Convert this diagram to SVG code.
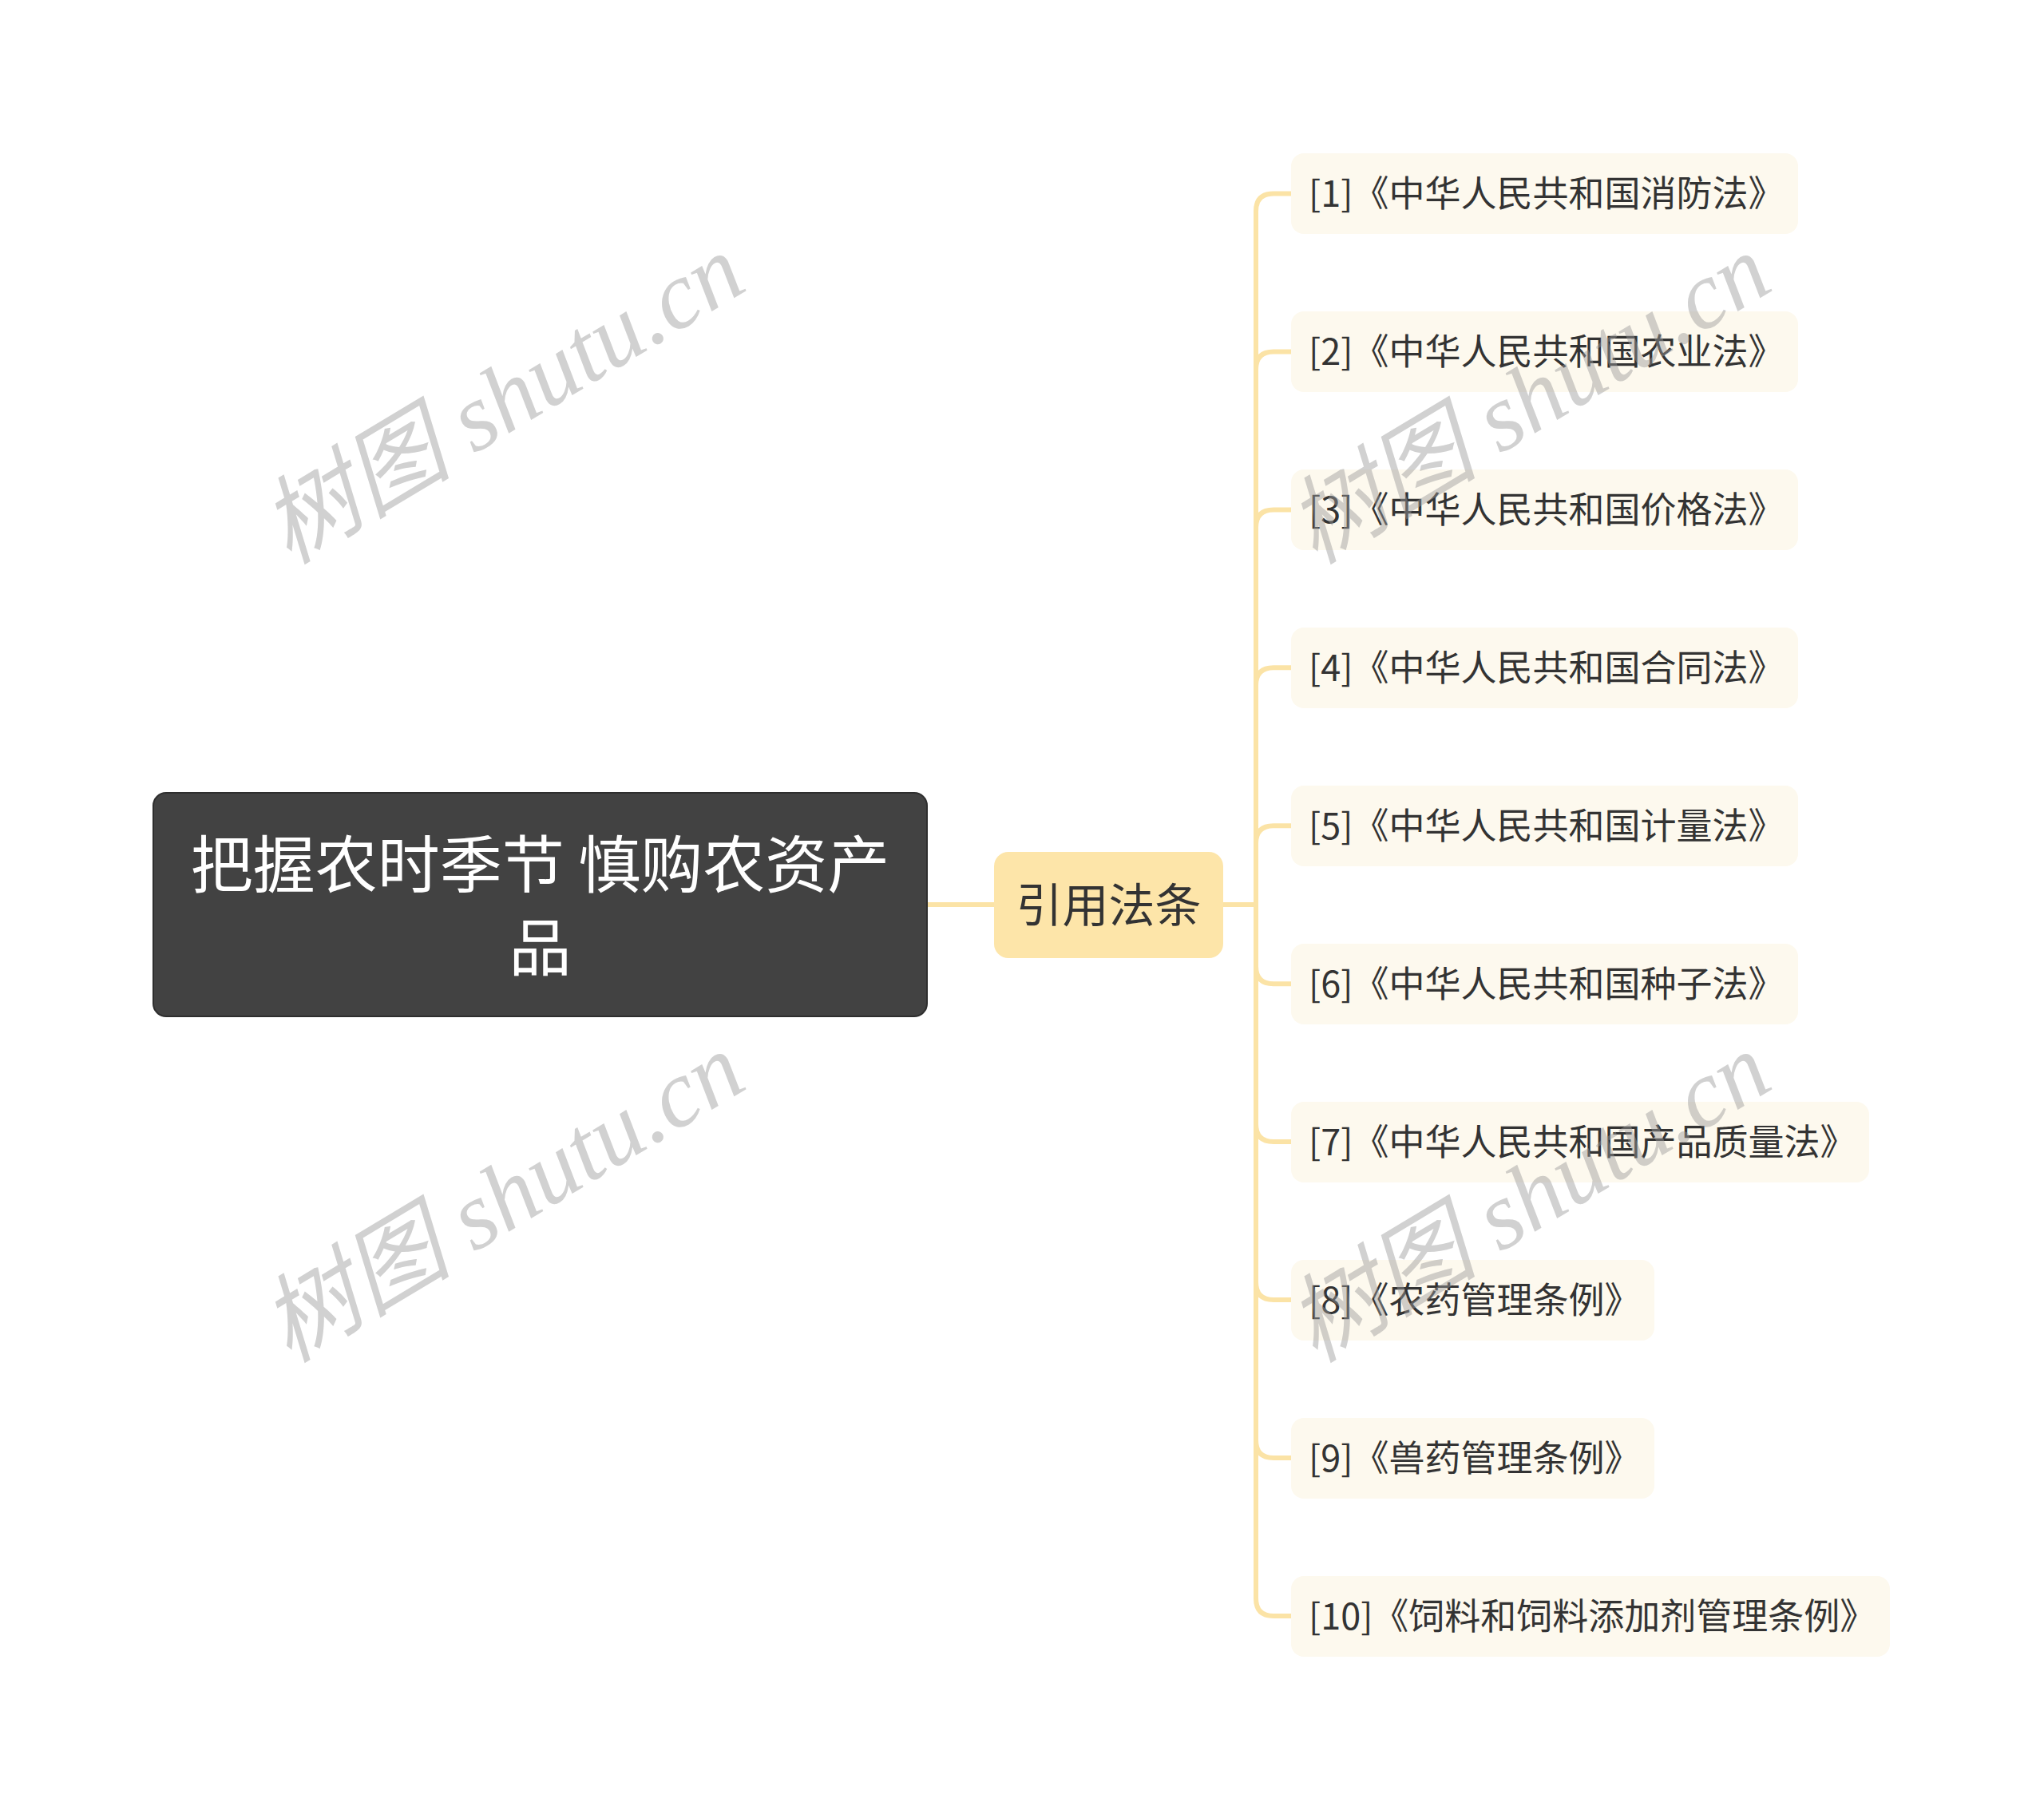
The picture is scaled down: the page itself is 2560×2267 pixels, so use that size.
<svg xmlns="http://www.w3.org/2000/svg" width="2560" height="2267" viewBox="0 0 2560 2267">
<style>
.conn{fill:none;stroke:#FBE3A6;stroke-width:6;stroke-linecap:round}
.leaf rect{fill:#FDF9EE}
.leaf text{font-family:"Noto Sans CJK SC","Noto Sans",sans-serif;font-size:45px;fill:#333333}
.wm{font-family:"Liberation Serif","Noto Sans CJK SC",serif;font-style:italic;font-size:120px;fill:#9a9a9a;opacity:0.45}
</style>
<rect width="2560" height="2267" fill="#ffffff"/>
<g id="connectors">
<path class="conn" d="M1161 1133 H1245"/>
<path class="conn" d="M1532 1133 H1573 V264.5 Q1573 242.5 1595 242.5 H1617"/>
<path class="conn" d="M1532 1133 H1573 V462.4 Q1573 440.4 1595 440.4 H1617"/>
<path class="conn" d="M1532 1133 H1573 V660.4 Q1573 638.4 1595 638.4 H1617"/>
<path class="conn" d="M1532 1133 H1573 V858.3 Q1573 836.3 1595 836.3 H1617"/>
<path class="conn" d="M1532 1133 H1573 V1056.2 Q1573 1034.2 1595 1034.2 H1617"/>
<path class="conn" d="M1532 1133 H1573 V1210.2 Q1573 1232.2 1595 1232.2 H1617"/>
<path class="conn" d="M1532 1133 H1573 V1408.1 Q1573 1430.1 1595 1430.1 H1617"/>
<path class="conn" d="M1532 1133 H1573 V1606 Q1573 1628 1595 1628 H1617"/>
<path class="conn" d="M1532 1133 H1573 V1804 Q1573 1826 1595 1826 H1617"/>
<path class="conn" d="M1532 1133 H1573 V2001.9 Q1573 2023.9 1595 2023.9 H1617"/>
</g>
<g id="root">
<rect x="192" y="993" width="969" height="280" rx="16" fill="#424242" stroke="#2e2e2e" stroke-width="2"/>
<text x="676.5" y="1112" text-anchor="middle" font-family="'Noto Sans CJK SC','Noto Sans',sans-serif" font-size="78" fill="#ffffff">把握农时季节 慎购农资产</text>
<text x="676.5" y="1216" text-anchor="middle" font-family="'Noto Sans CJK SC','Noto Sans',sans-serif" font-size="78" fill="#ffffff">品</text>
</g>
<g id="mid">
<rect x="1245" y="1067" width="287" height="133" rx="18" fill="#FDE5A9"/>
<text x="1388.5" y="1155" text-anchor="middle" font-family="'Noto Sans CJK SC','Noto Sans',sans-serif" font-size="58" fill="#333333">引用法条</text>
</g>
<g id="leaf1" class="leaf"><rect x="1617" y="192" width="635" height="101" rx="16"/><text x="1639" y="259">[1]《中华人民共和国消防法》</text></g>
<g id="leaf2" class="leaf"><rect x="1617" y="390" width="635" height="101" rx="16"/><text x="1639" y="457">[2]《中华人民共和国农业法》</text></g>
<g id="leaf3" class="leaf"><rect x="1617" y="588" width="635" height="101" rx="16"/><text x="1639" y="655">[3]《中华人民共和国价格法》</text></g>
<g id="leaf4" class="leaf"><rect x="1617" y="786" width="635" height="101" rx="16"/><text x="1639" y="853">[4]《中华人民共和国合同法》</text></g>
<g id="leaf5" class="leaf"><rect x="1617" y="984" width="635" height="101" rx="16"/><text x="1639" y="1051">[5]《中华人民共和国计量法》</text></g>
<g id="leaf6" class="leaf"><rect x="1617" y="1182" width="635" height="101" rx="16"/><text x="1639" y="1249">[6]《中华人民共和国种子法》</text></g>
<g id="leaf7" class="leaf"><rect x="1617" y="1380" width="724" height="101" rx="16"/><text x="1639" y="1447">[7]《中华人民共和国产品质量法》</text></g>
<g id="leaf8" class="leaf"><rect x="1617" y="1578" width="455" height="101" rx="16"/><text x="1639" y="1645">[8]《农药管理条例》</text></g>
<g id="leaf9" class="leaf"><rect x="1617" y="1776" width="455" height="101" rx="16"/><text x="1639" y="1843">[9]《兽药管理条例》</text></g>
<g id="leaf10" class="leaf"><rect x="1617" y="1974" width="750" height="101" rx="16"/><text x="1639" y="2041">[10]《饲料和饲料添加剂管理条例》</text></g>
<g id="watermarks">
<text class="wm" transform="translate(362 708) rotate(-31)">树图 shutu.cn</text>
<text class="wm" transform="translate(362 1708) rotate(-31)">树图 shutu.cn</text>
<text class="wm" transform="translate(1647 708) rotate(-31)">树图 shutu.cn</text>
<text class="wm" transform="translate(1647 1708) rotate(-31)">树图 shutu.cn</text>
</g>
</svg>
